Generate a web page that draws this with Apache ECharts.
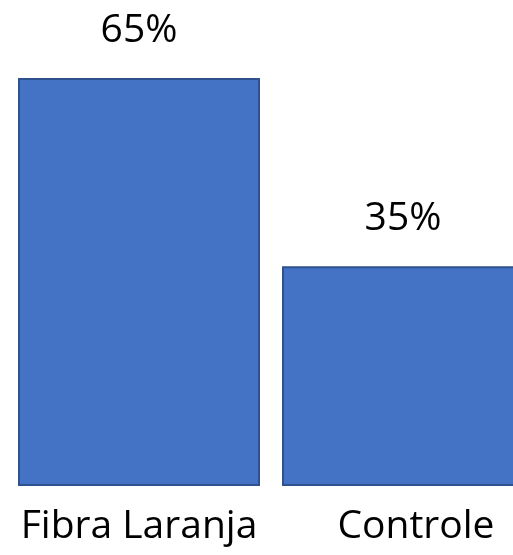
<!DOCTYPE html>
<html>
<head>
<meta charset="utf-8">
<script src="https://cdn.jsdelivr.net/npm/echarts@6/dist/echarts.min.js"></script>
<style>
  html, body { margin: 0; padding: 0; background: #ffffff; }
  #chart { width: 513px; height: 555px; }
</style>
</head>
<body>
<div id="chart"></div>
<script>
// Share of responses per group (percent)
const categories = ['Fibra Laranja', 'Controle'];
const values = [65, 35];

const chart = echarts.init(document.getElementById('chart'), null, { renderer: 'canvas' });

chart.setOption({
  animation: false,
  backgroundColor: '#ffffff',
  grid: {
    left: 7, top: 78, width: 528, bottom: 69,
    outerBoundsMode: 'none',
    containLabel: false
  },
  xAxis: {
    type: 'category',
    data: categories.map((c, i) => i === 1
      ? { value: c, textStyle: { padding: [0, 0, 0, 26] } }
      : { value: c }),
    axisLine: { show: false },
    axisTick: { show: false },
    axisLabel: {
      interval: 0,
      hideOverlap: false,
      margin: 21,
      fontFamily: 'Open Sans',
      fontSize: 39,
      color: '#000000'
    }
  },
  yAxis: {
    type: 'value',
    min: 0,
    max: 65,
    show: false,
    splitLine: { show: false }
  },
  series: [{
    type: 'bar',
    data: values,
    barWidth: 242,
    itemStyle: {
      color: '#4472C4',
      borderColor: '#2F528F',
      borderWidth: 2
    },
    label: {
      show: true,
      position: 'top',
      distance: 28,
      formatter: p => p.value + '%',
      fontFamily: 'Open Sans',
      fontSize: 39,
      color: '#000000'
    }
  }]
});
</script>
</body>
</html>
